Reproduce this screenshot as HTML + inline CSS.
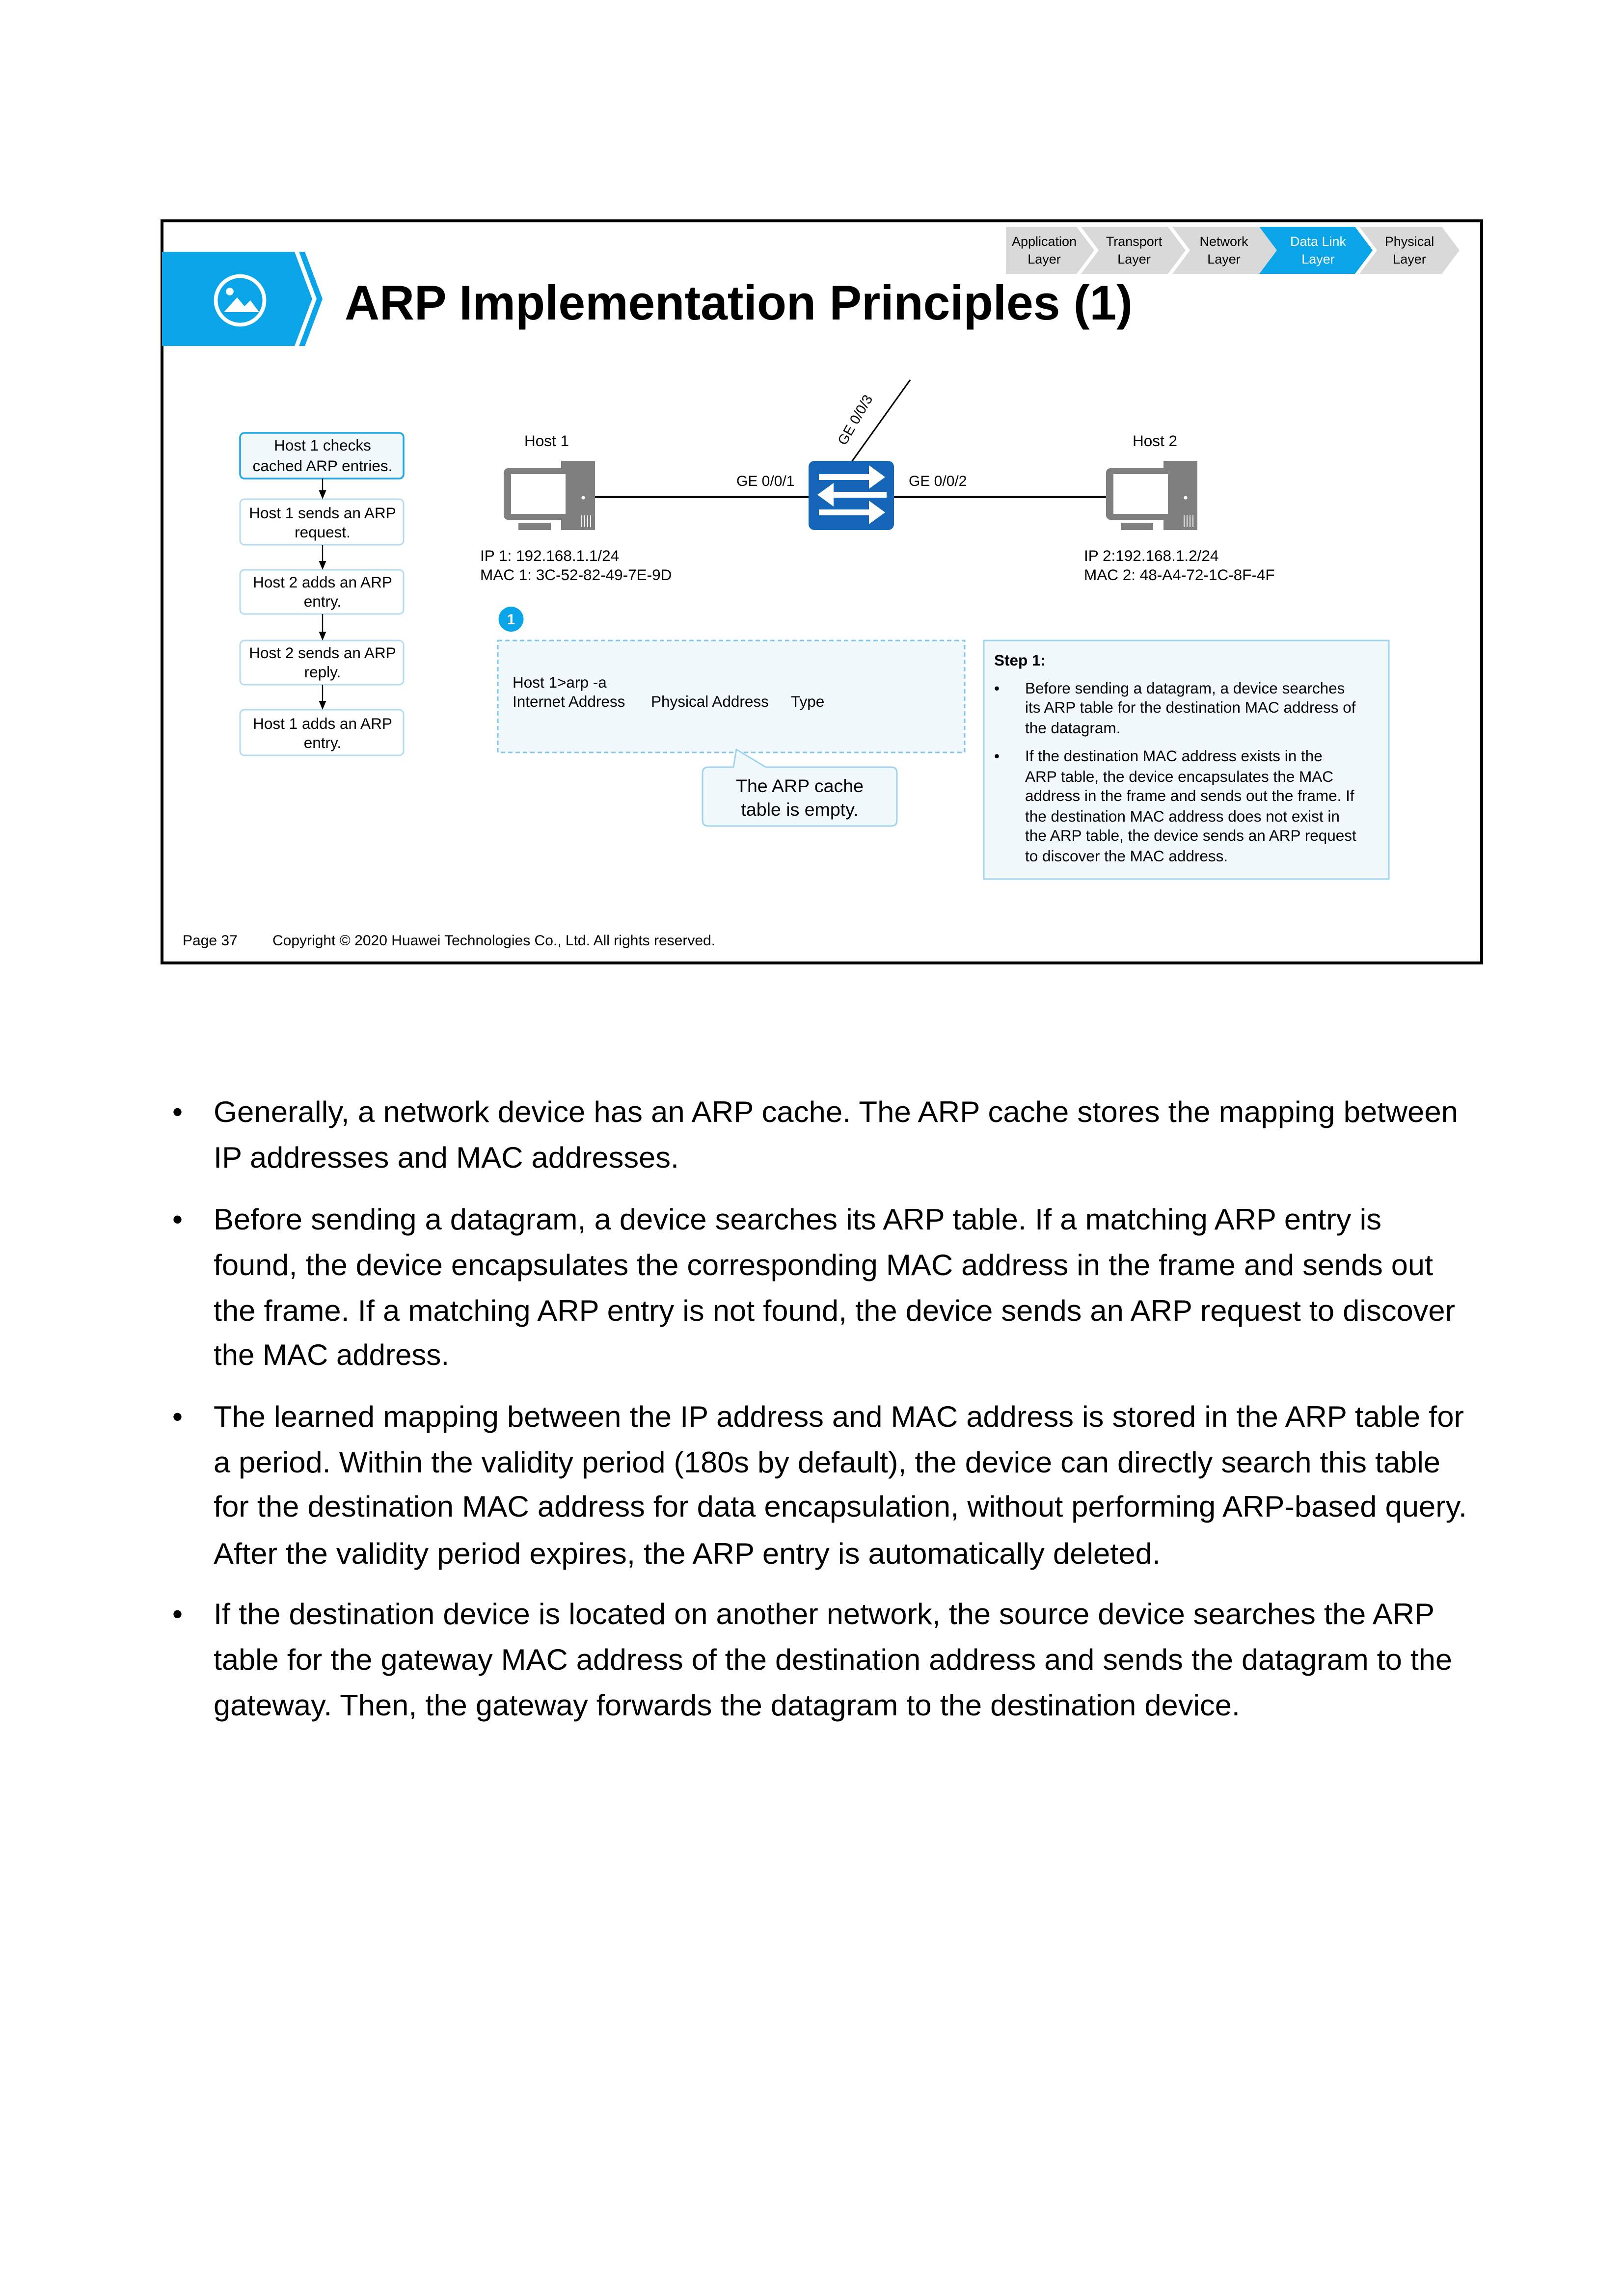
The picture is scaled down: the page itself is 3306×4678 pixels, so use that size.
<!DOCTYPE html>
<html><head><meta charset="utf-8"><style>
html,body{margin:0;padding:0;background:#fff}
svg{display:block}
text{font-family:"Liberation Sans",Arial,sans-serif}
</style></head><body>
<svg width="3306" height="4678" viewBox="0 0 1102 1559.333" xmlns="http://www.w3.org/2000/svg">
<rect x="0" y="0" width="1102" height="1560" fill="#fff"/>
<rect x="110" y="150" width="896" height="504" fill="#fff" stroke="#000" stroke-width="2"/>
<polygon points="110,171 200,171 212,203 200,235 110,235" fill="#0aa5e8"/>
<polygon points="203,171 207,171 219,203 207,235 203,235 215,203" fill="#0aa5e8"/>
<circle cx="163" cy="204" r="16.5" fill="none" stroke="#fff" stroke-width="2.6"/>
<circle cx="156" cy="198" r="2.6" fill="#fff"/>
<polygon points="152,212 161,202 166,208 170,204 176,212" fill="#fff"/>
<text x="234" y="217" font-size="33" font-weight="bold" textLength="535" lengthAdjust="spacingAndGlyphs">ARP Implementation Principles (1)</text>
<g font-size="9" text-anchor="middle">
<polygon points="683,154 731,154 743,170 731,186 683,186" fill="#d9d9d9"/>
<polygon points="734,154 793,154 805,170 793,186 734,186 746,170" fill="#d9d9d9"/>
<polygon points="796,154 855,154 867,170 855,186 796,186 808,170" fill="#d9d9d9"/>
<polygon points="855,154 920,154 932,170 920,186 855,186 867,170" fill="#0aa5e8"/>
<polygon points="923,154 979,154 991,170 979,186 923,186 935,170" fill="#d9d9d9"/>
<text x="709" y="167">Application</text><text x="709" y="179">Layer</text>
<text x="770" y="167">Transport</text><text x="770" y="179">Layer</text>
<text x="831" y="167">Network</text><text x="831" y="179">Layer</text>
<text x="895" y="167" fill="#fff">Data Link</text><text x="895" y="179" fill="#fff">Layer</text>
<text x="957" y="167">Physical</text><text x="957" y="179">Layer</text>
</g>
<g font-size="10.5" text-anchor="middle">
<rect x="163" y="294" width="111" height="31" rx="3" fill="#f2f9fd" stroke="#22a8e6" stroke-width="1.2"/>
<text x="219" y="306">Host 1 checks</text><text x="219" y="320">cached ARP entries.</text>
<rect x="163" y="339" width="111" height="31" rx="3" fill="#fff" stroke="#b5dcf0" stroke-width="1"/>
<text x="219" y="352">Host 1 sends an ARP</text><text x="219" y="365">request.</text>
<rect x="163" y="387" width="111" height="30" rx="3" fill="#fff" stroke="#b5dcf0" stroke-width="1"/>
<text x="219" y="399">Host 2 adds an ARP</text><text x="219" y="412">entry.</text>
<rect x="163" y="435" width="111" height="30" rx="3" fill="#fff" stroke="#b5dcf0" stroke-width="1"/>
<text x="219" y="447">Host 2 sends an ARP</text><text x="219" y="460">reply.</text>
<rect x="163" y="482" width="111" height="31" rx="3" fill="#fff" stroke="#b5dcf0" stroke-width="1"/>
<text x="219" y="495">Host 1 adds an ARP</text><text x="219" y="508">entry.</text>
</g>
<g stroke="#000" stroke-width="0.8">
<line x1="219" y1="325" x2="219" y2="335"/><line x1="219" y1="370" x2="219" y2="383"/>
<line x1="219" y1="417" x2="219" y2="431"/><line x1="219" y1="465" x2="219" y2="478"/>
</g>
<g fill="#000">
<polygon points="216.5,333 221.5,333 219,339"/><polygon points="216.5,381 221.5,381 219,387"/>
<polygon points="216.5,429 221.5,429 219,435"/><polygon points="216.5,476 221.5,476 219,482"/>
</g>
<line x1="404" y1="337.5" x2="549" y2="337.5" stroke="#000" stroke-width="1.5"/>
<line x1="607" y1="337.5" x2="751" y2="337.5" stroke="#000" stroke-width="1.5"/>
<line x1="578" y1="314" x2="618" y2="258" stroke="#000" stroke-width="1"/>
<text transform="translate(574,303) rotate(-60)" font-size="9.5">GE 0/0/3</text>
<text x="500" y="330" font-size="10">GE 0/0/1</text>
<text x="617" y="330" font-size="10">GE 0/0/2</text>
<g id="h1">
<rect x="381" y="313" width="23" height="47" fill="#7f7f7f"/>
<rect x="342" y="318" width="47" height="35" rx="3" fill="#7f7f7f"/>
<rect x="347" y="322" width="37" height="27" fill="#fff"/>
<rect x="352" y="355" width="22" height="5" fill="#7f7f7f"/>
<circle cx="396" cy="338" r="1.2" fill="#fff"/>
<g stroke="#fff" stroke-width="0.6"><line x1="395" y1="350" x2="395" y2="358"/><line x1="397" y1="350" x2="397" y2="358"/><line x1="399" y1="350" x2="399" y2="358"/><line x1="401" y1="350" x2="401" y2="358"/></g>
</g>
<use href="#h1" transform="translate(409,0)"/>
<text x="356" y="303" font-size="10.5">Host 1</text>
<text x="769" y="303" font-size="10.5">Host 2</text>
<rect x="549" y="313" width="58" height="47" rx="4" fill="#1565b8"/>
<g fill="#fff">
<rect x="556" y="322" width="36" height="4"/><polygon points="590,316 601,324 590,332"/>
<rect x="564" y="334" width="38" height="4"/><polygon points="566,328 555,336 566,344"/>
<rect x="556" y="346" width="36" height="4"/><polygon points="590,340 601,348 590,356"/>
</g>
<g font-size="10.5">
<text x="326" y="381">IP 1: 192.168.1.1/24</text>
<text x="326" y="394">MAC 1: 3C-52-82-49-7E-9D</text>
<text x="736" y="381">IP 2:192.168.1.2/24</text>
<text x="736" y="394">MAC 2: 48-A4-72-1C-8F-4F</text>
</g>
<circle cx="347" cy="420.5" r="8.5" fill="#0aa5e8"/>
<text x="347" y="424" font-size="10" fill="#fff" text-anchor="middle" font-weight="bold">1</text>
<rect x="338" y="435" width="317" height="76" fill="#f2f9fd" stroke="#7fc8ec" stroke-width="1" stroke-dasharray="3,2"/>
<text x="348" y="467" font-size="10.5">Host 1&gt;arp -a</text>
<text x="348" y="480" font-size="10.5">Internet Address</text>
<text x="442" y="480" font-size="10.5">Physical Address</text>
<text x="537" y="480" font-size="10.5">Type</text>
<path d="M481,521 L498,521 L500,509 L520,521 L605,521 Q609,521 609,525 L609,557 Q609,561 605,561 L481,561 Q477,561 477,557 L477,525 Q477,521 481,521 Z" fill="#f2f9fd" stroke="#9fd4ee" stroke-width="1"/>
<text x="543" y="538" font-size="12.5" text-anchor="middle">The ARP cache</text>
<text x="543" y="554" font-size="12.5" text-anchor="middle">table is empty.</text>
<rect x="668" y="435" width="275" height="162" fill="#f2f9fd" stroke="#9fd4ee" stroke-width="1"/>
<g font-size="10.5">
<text x="675" y="452" font-weight="bold">Step 1:</text>
<text x="675" y="471">•</text>
<text x="696" y="471">Before sending a datagram, a device searches</text>
<text x="696" y="484">its ARP table for the destination MAC address of</text>
<text x="696" y="498">the datagram.</text>
<text x="675" y="517">•</text>
<text x="696" y="517">If the destination MAC address exists in the</text>
<text x="696" y="531">ARP table, the device encapsulates the MAC</text>
<text x="696" y="544">address in the frame and sends out the frame. If</text>
<text x="696" y="558">the destination MAC address does not exist in</text>
<text x="696" y="571">the ARP table, the device sends an ARP request</text>
<text x="696" y="585">to discover the MAC address.</text>
</g>
<text x="124" y="642" font-size="10">Page 37</text>
<text x="185" y="642" font-size="10">Copyright © 2020 Huawei Technologies Co., Ltd. All rights reserved.</text>
<g font-size="20">
<text x="117" y="762">•</text>
<text x="145" y="762" textLength="845" lengthAdjust="spacingAndGlyphs">Generally, a network device has an ARP cache. The ARP cache stores the mapping between</text>
<text x="145" y="793" textLength="316" lengthAdjust="spacingAndGlyphs">IP addresses and MAC addresses.</text>
<text x="117" y="835">•</text>
<text x="145" y="835" textLength="793" lengthAdjust="spacingAndGlyphs">Before sending a datagram, a device searches its ARP table. If a matching ARP entry is</text>
<text x="145" y="866" textLength="828" lengthAdjust="spacingAndGlyphs">found, the device encapsulates the corresponding MAC address in the frame and sends out</text>
<text x="145" y="897" textLength="843" lengthAdjust="spacingAndGlyphs">the frame. If a matching ARP entry is not found, the device sends an ARP request to discover</text>
<text x="145" y="927" textLength="160" lengthAdjust="spacingAndGlyphs">the MAC address.</text>
<text x="117" y="969">•</text>
<text x="145" y="969" textLength="849" lengthAdjust="spacingAndGlyphs">The learned mapping between the IP address and MAC address is stored in the ARP table for</text>
<text x="145" y="1000" textLength="833" lengthAdjust="spacingAndGlyphs">a period. Within the validity period (180s by default), the device can directly search this table</text>
<text x="145" y="1030" textLength="851" lengthAdjust="spacingAndGlyphs">for the destination MAC address for data encapsulation, without performing ARP-based query.</text>
<text x="145" y="1062" textLength="643" lengthAdjust="spacingAndGlyphs">After the validity period expires, the ARP entry is automatically deleted.</text>
<text x="117" y="1103">•</text>
<text x="145" y="1103" textLength="829" lengthAdjust="spacingAndGlyphs">If the destination device is located on another network, the source device searches the ARP</text>
<text x="145" y="1134" textLength="841" lengthAdjust="spacingAndGlyphs">table for the gateway MAC address of the destination address and sends the datagram to the</text>
<text x="145" y="1165" textLength="697" lengthAdjust="spacingAndGlyphs">gateway. Then, the gateway forwards the datagram to the destination device.</text>
</g>
</svg>
</body></html>
